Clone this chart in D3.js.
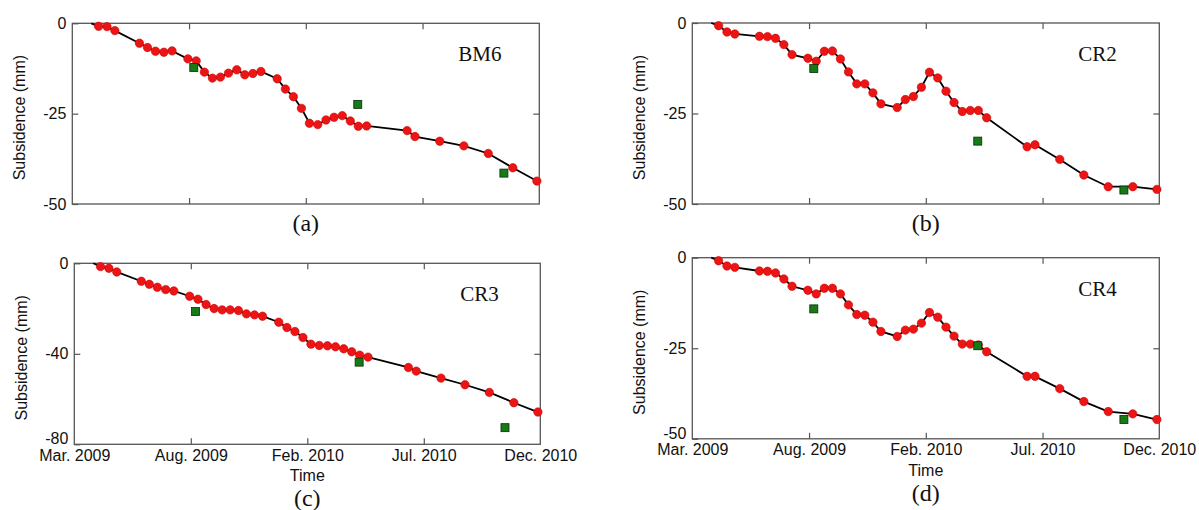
<!DOCTYPE html>
<html><head><meta charset="utf-8">
<script src="https://cdn.jsdelivr.net/npm/d3@7/dist/d3.min.js"></script>
<style>body{margin:0;background:#fff}svg{display:block}</style>
</head><body><svg id="chart" width="1199" height="510"></svg>
<script>
// Acquisition days since 1 Mar 2009 (first = reference, value 0)
const acqDays = [26, 36, 47.5, 58.3, 92, 103, 114, 125.5, 136.7, 158.4, 169.8, 181, 192, 203, 214, 225.4, 236.4, 247.5, 258.5,
  280.8, 292, 303, 314, 325, 336.4, 347.7, 358.7, 370, 381, 392, 403.4, 458.8, 469.6, 503.6, 536.6, 570, 603.7, 636.7];

const bm6 = [0, -0.83, -0.92, -2.02, -5.51, -6.71, -7.72, -8.0, -7.63, -9.83, -10.39, -13.51, -15.17, -14.89, -13.79, -12.87, -14.25, -13.88, -13.33,
  -15.35, -18.2, -20.31, -23.53, -27.67, -28.03, -26.75, -26.01, -25.55, -27.02, -28.49, -28.4, -29.69, -31.34, -32.63, -33.91, -36.03, -39.98, -43.66];
const cr2 = [0, -0.74, -2.48, -3.03, -3.68, -3.77, -4.23, -5.97, -8.73, -9.74, -10.57, -7.81, -7.72, -9.93, -13.51, -16.82, -16.82, -19.3, -22.33,
  -23.35, -21.14, -20.31, -17.74, -13.6, -15.17, -18.84, -21.97, -24.45, -24.17, -24.17, -26.19, -34.19, -33.64, -37.68, -42.0, -45.22, -45.22, -45.96];
const cr3 = [0, -1.47, -2.21, -3.82, -7.94, -9.26, -10.59, -11.62, -12.21, -14.56, -15.88, -18.24, -20.0, -20.59, -20.59, -20.88, -22.35, -22.79, -23.38,
  -26.03, -28.38, -30.15, -32.79, -35.74, -36.32, -36.47, -36.91, -37.79, -39.12, -40.59, -41.47, -46.03, -47.65, -50.74, -53.68, -57.06, -61.62, -65.74];
const cr4 = [0, -0.83, -2.29, -2.66, -3.67, -3.76, -4.22, -5.87, -7.89, -8.99, -10.0, -8.44, -8.44, -10.0, -13.03, -15.69, -15.87, -17.8, -20.37,
  -21.74, -20.0, -19.72, -18.07, -15.14, -16.42, -19.17, -21.65, -23.85, -23.85, -24.1, -25.96, -32.75, -32.75, -36.15, -39.72, -42.48, -43.12, -44.68];

// Levelling measurements
const levelDays = [166.5, 391.2, 591.5];
const bm6Level = [-12.22, -22.43, -41.45];
const cr2Level = [-12.59, -32.63, -46.14];
const cr3Level = [-21.32, -43.68, -72.65];
const cr4Level = [-14.13, -24.31, -44.68];

const xTickDays = [0, 160, 320, 480, 640];
const xTickLabels = ["Mar. 2009", "Aug. 2009", "Feb. 2010", "Jul. 2010", "Dec. 2010"];
const yTicks50 = [0, -25, -50];
const yTicks80 = [0, -40, -80];
const panelNames = ["BM6", "CR2", "CR3", "CR4"];
const panelLetters = ["(a)", "(b)", "(c)", "(d)"];

const panels = [
  {name: panelNames[0], letter: panelLetters[0], vals: bm6, lev: bm6Level, yTicks: yTicks50, box: [72.3, 539.3, 23.3, 204], xlab: false},
  {name: panelNames[1], letter: panelLetters[1], vals: cr2, lev: cr2Level, yTicks: yTicks50, box: [692.3, 1159.3, 23, 204], xlab: false},
  {name: panelNames[2], letter: panelLetters[2], vals: cr3, lev: cr3Level, yTicks: yTicks80, box: [74.3, 540.3, 263.3, 444.3], xlab: true},
  {name: panelNames[3], letter: panelLetters[3], vals: cr4, lev: cr4Level, yTicks: yTicks50, box: [692.3, 1159.3, 257.7, 438.8], xlab: true}
];

const svg = d3.select("#chart");
const sans = "'Liberation Sans', Arial, sans-serif";
const serif = "'Liberation Serif', 'Times New Roman', serif";

panels.forEach(p => {
  const [x0, x1, y0, y1] = p.box;
  const x = d3.scaleLinear().domain([0, 640]).range([x0, x1]);
  const y = d3.scaleLinear().domain([p.yTicks[2], 0]).range([y1, y0]);
  const g = svg.append("g");

  // inward ticks (top/bottom, left/right)
  const tl = 6;
  const axB = d3.axisBottom(x).tickValues(xTickDays.slice(1, -1)).tickSize(-tl).tickFormat("");
  const axT = d3.axisTop(x).tickValues(xTickDays.slice(1, -1)).tickSize(-tl).tickFormat("");
  const axL = d3.axisLeft(y).tickValues(p.yTicks).tickSize(-tl).tickPadding(9).tickFormat(d => String(d));
  const axR = d3.axisRight(y).tickValues([p.yTicks[1]]).tickSize(-tl).tickFormat("");
  [[axB, `translate(0,${y1})`], [axT, `translate(0,${y0})`], [axL, `translate(${x0},0)`], [axR, `translate(${x1},0)`]].forEach(([ax, tr]) => {
    const a = g.append("g").attr("transform", tr).call(ax);
    a.select(".domain").remove();
    a.selectAll(".tick line").attr("stroke", "#555").attr("stroke-width", 1.2);
  });
  g.selectAll(".tick text").attr("font-family", sans).attr("font-size", 16).attr("fill", "#111").attr("dx", 3);
  // bottom y label sits a little higher, as in the reference
  if (p.xlab) g.selectAll(".tick text").filter(d => d === p.yTicks[2]).attr("dy", "-0.05em");

  // frame
  g.append("rect").attr("x", x0).attr("y", y0).attr("width", x1 - x0).attr("height", y1 - y0)
    .attr("fill", "none").attr("stroke", "#555").attr("stroke-width", 1.3);

  // x labels
  if (p.xlab) {
    const ax = g.append("g").attr("transform", `translate(0,${y1})`)
      .call(d3.axisBottom(x).tickValues(xTickDays).tickSize(0).tickPadding(5).tickFormat((d, i) => xTickLabels[i]));
    ax.select(".domain").remove();
    ax.selectAll("text").attr("font-family", sans).attr("font-size", 16).attr("fill", "#111");
    g.append("text").attr("x", (x0 + x1) / 2).attr("y", y1 + 37).attr("text-anchor", "middle")
      .attr("font-family", sans).attr("font-size", 16).attr("fill", "#111").text("Time");
  }

  // y title
  g.append("text").attr("transform", `translate(${x0 - 47},${(y0 + y1) / 2 + 4}) rotate(-90)`)
    .attr("text-anchor", "middle").attr("font-family", sans).attr("font-size", 16).attr("fill", "#111")
    .text("Subsidence (mm)");

  // series line
  const pts = acqDays.map((d, i) => [d, p.vals[i]]);
  g.append("path").datum(pts)
    .attr("d", d3.line().x(d => x(d[0])).y(d => y(d[1])))
    .attr("fill", "none").attr("stroke", "#000").attr("stroke-width", 1.8);

  // red points (skip reference point)
  g.selectAll("circle.pt").data(pts.slice(1)).join("circle")
    .attr("cx", d => x(d[0])).attr("cy", d => y(d[1])).attr("r", 4.2)
    .attr("fill", "#ec1515").attr("stroke", "#d00000").attr("stroke-width", 0.6);

  // levelling squares
  const sq = 8;
  g.selectAll("rect.lev").data(levelDays.map((d, i) => [d, p.lev[i]])).join("rect")
    .attr("x", d => x(d[0]) - sq / 2).attr("y", d => y(d[1]) - sq / 2)
    .attr("width", sq).attr("height", sq)
    .attr("fill", "#167a16").attr("stroke", "#0a2a0a").attr("stroke-width", 0.8);

  // site label
  g.append("text").attr("x", x0 + 386).attr("y", y0 + 38)
    .attr("font-family", serif).attr("font-size", 21).attr("fill", "#111").text(p.name);

  // panel letter
  g.append("text").attr("x", (x0 + x1) / 2).attr("y", p.xlab ? y1 + 62 : y1 + 27)
    .attr("text-anchor", "middle").attr("font-family", serif).attr("font-size", 24).attr("fill", "#111").text(p.letter);
});
</script></body></html>
